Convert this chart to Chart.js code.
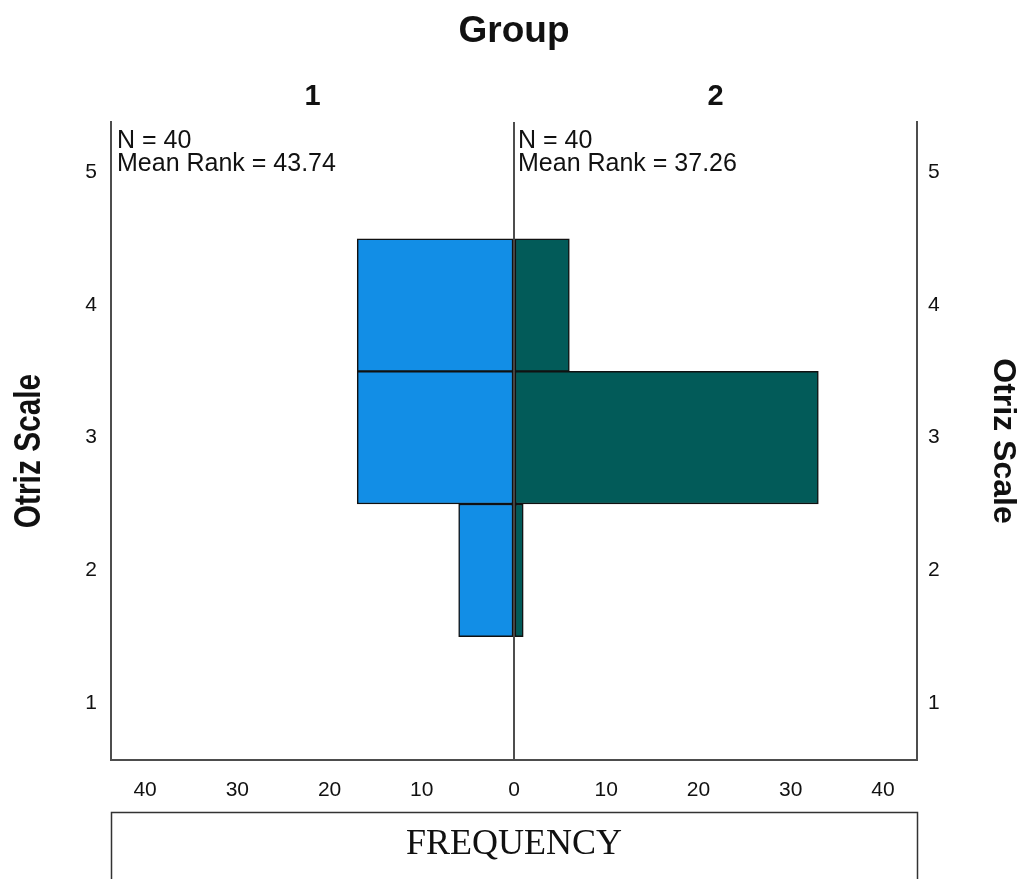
<!DOCTYPE html>
<html>
<head>
<meta charset="utf-8">
<title>Otriz Scale by Group</title>
<script src="https://cdn.jsdelivr.net/npm/chart.js@4/dist/chart.umd.min.js"></script>
<style>
  html, body { margin: 0; padding: 0; background: #fff; }
  canvas { display: block; }
</style>
</head>
<body>
<canvas id="chart" width="1024" height="879"></canvas>
<script>
// Otriz Scale scores and how often each occurs in the two groups
const scores = [4, 3, 2];
const group1Freq = [17, 17, 6];
const group2Freq = [6, 33, 1];
const groupNames = ['1', '2'];
const groupN = [40, 40];
const groupMeanRank = ['43.74', '37.26'];
const scoreTicks = [1, 2, 3, 4, 5];
const freqTicks = [-40, -30, -20, -10, 0, 10, 20, 30, 40];
const scaleTitle = 'Otriz Scale';

const AXIS_COLOR = '#4d4d4d';
const SANS = "'Liberation Sans', Arial, sans-serif";

Chart.defaults.font.family = SANS;
Chart.defaults.color = '#111';

// Header, panel labels, N / mean-rank notes, condensed left title and the FREQUENCY caption box
const decorations = {
  id: 'decorations',
  beforeDraw(chart) {
    const ctx = chart.ctx;
    ctx.save();
    ctx.fillStyle = '#fff';
    ctx.fillRect(0, 0, chart.width, chart.height);
    ctx.restore();
  },
  afterDraw(chart) {
    const ctx = chart.ctx;
    const area = chart.chartArea;
    const x = chart.scales.x;
    const mid = x.getPixelForValue(0);
    ctx.save();
    ctx.fillStyle = '#111';
    ctx.textAlign = 'center';
    ctx.textBaseline = 'middle';

    ctx.font = 'bold 37px ' + SANS;
    ctx.fillText('Group', (area.left + area.right) / 2, 32);

    ctx.font = 'bold 29px ' + SANS;
    ctx.fillText(groupNames[0], (area.left + mid) / 2, 97);
    ctx.fillText(groupNames[1], (mid + area.right) / 2, 97);

    // left axis title, set in a condensed bold face
    ctx.save();
    ctx.translate(30, 451);
    ctx.rotate(-Math.PI / 2);
    ctx.scale(0.83, 1);
    ctx.font = 'bold 36px ' + SANS;
    ctx.fillText(scaleTitle, 0, 0);
    ctx.restore();

    ctx.font = '25px ' + SANS;
    ctx.textAlign = 'left';
    const lefts = [area.left + 6, mid + 4];
    for (let i = 0; i < 2; i++) {
      ctx.fillText('N = ' + groupN[i], lefts[i], 141);
      ctx.fillText('Mean Rank = ' + groupMeanRank[i], lefts[i], 164);
    }

    // caption box below the frequency axis
    ctx.strokeStyle = '#333';
    ctx.lineWidth = 1.5;
    ctx.strokeRect(area.left + 0.5, 812.5, area.right - area.left, 100);
    ctx.font = "36px 'Liberation Serif', 'Times New Roman', serif";
    ctx.textAlign = 'center';
    ctx.fillText('FREQUENCY', (area.left + area.right) / 2, 845);
    ctx.restore();
  }
};

const ctx = document.getElementById('chart').getContext('2d');
new Chart(ctx, {
  type: 'bar',
  data: {
    datasets: [
      {
        label: 'Group ' + groupNames[0],
        data: scores.map((s, i) => ({ y: s, x: -group1Freq[i] })),
        backgroundColor: '#128ee6',
        borderColor: '#111',
        borderWidth: 1.5,
        borderSkipped: false
      },
      {
        label: 'Group ' + groupNames[1],
        data: scores.map((s, i) => ({ y: s, x: group2Freq[i] })),
        backgroundColor: '#025b59',
        borderColor: '#111',
        borderWidth: 1.5,
        borderSkipped: false
      }
    ]
  },
  options: {
    indexAxis: 'y',
    responsive: false,
    animation: false,
    grouped: false,
    barPercentage: 1,
    categoryPercentage: 1,
    layout: { padding: { top: 122, left: 0, right: 0, bottom: 0 } },
    plugins: {
      legend: { display: false },
      tooltip: { enabled: false },
      title: { display: false }
    },
    scales: {
      x: {
        type: 'linear',
        position: 'bottom',
        min: -43.7,
        max: 43.7,
        afterBuildTicks: (scale) => { scale.ticks = freqTicks.map(v => ({ value: v })); },
        afterFit: (scale) => { scale.height = 119; },
        ticks: {
          callback: (v) => String(Math.abs(v)),
          font: { size: 21 },
          padding: 18,
          maxRotation: 0,
          autoSkip: false
        },
        grid: {
          display: true,
          drawTicks: false,
          drawOnChartArea: true,
          color: (c) => (c.tick && c.tick.value === 0 ? AXIS_COLOR : 'rgba(0,0,0,0)'),
          lineWidth: 2
        },
        border: { display: true, color: AXIS_COLOR, width: 2 }
      },
      y: {
        type: 'linear',
        position: 'left',
        offset: false,
        min: 0.57,
        max: 5.38,
        afterBuildTicks: (scale) => { scale.ticks = scoreTicks.map(v => ({ value: v })); },
        afterFit: (scale) => { scale.width = 111; },
        ticks: { font: { size: 21 }, padding: 14, autoSkip: false },
        grid: { display: false, drawTicks: false, offset: false },
        border: { display: true, color: AXIS_COLOR, width: 2 },
        title: { display: false }
      },
      y2: {
        type: 'linear',
        position: 'right',
        offset: false,
        min: 0.57,
        max: 5.38,
        afterBuildTicks: (scale) => { scale.ticks = scoreTicks.map(v => ({ value: v })); },
        afterFit: (scale) => { scale.width = 107; },
        ticks: { font: { size: 21 }, padding: 11, autoSkip: false },
        grid: { display: false, drawTicks: false, offset: false },
        border: { display: true, color: AXIS_COLOR, width: 2 },
        title: {
          display: true,
          text: scaleTitle,
          font: { size: 32, weight: 'bold' },
          color: '#111',
          padding: { top: 2, bottom: 0 }
        }
      }
    }
  },
  plugins: [decorations]
});
</script>
</body>
</html>
